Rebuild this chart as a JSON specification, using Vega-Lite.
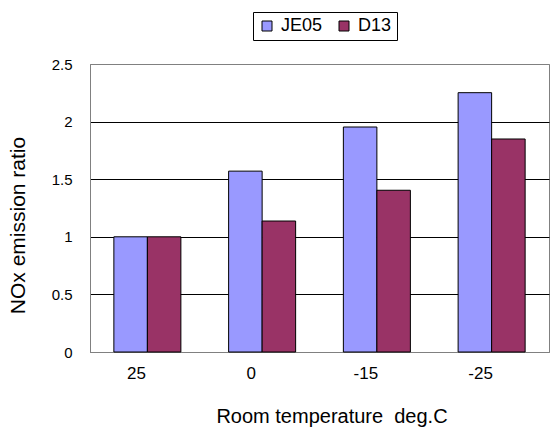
{
  "$schema": "https://vega.github.io/schema/vega-lite/v6.json",
  "width": 459,
  "height": 288,
  "autosize": {"type": "none"},
  "padding": {"left": 90, "top": 64, "right": 1, "bottom": 75},
  "background": "white",
  "config": {
    "font": "Liberation Sans",
    "view": {"stroke": "#808080", "strokeWidth": 1}
  },
  "data": {
    "values": [
      {"temp": "25", "series": "JE05", "ratio": 1.0},
      {"temp": "25", "series": "D13", "ratio": 1.0},
      {"temp": "0", "series": "JE05", "ratio": 1.57},
      {"temp": "0", "series": "D13", "ratio": 1.137},
      {"temp": "-15", "series": "JE05", "ratio": 1.953},
      {"temp": "-15", "series": "D13", "ratio": 1.404},
      {"temp": "-25", "series": "JE05", "ratio": 2.251},
      {"temp": "-25", "series": "D13", "ratio": 1.849}
    ]
  },
  "mark": {"type": "bar", "stroke": "black", "strokeWidth": 1},
  "encoding": {
    "x": {
      "field": "temp",
      "type": "nominal",
      "sort": null,
      "scale": {"paddingInner": 0.416, "paddingOuter": 0.208},
      "axis": {
        "title": "Room temperature\u00a0\u00a0deg.C",
        "titleFontSize": 20,
        "titleFontWeight": "normal",
        "titleColor": "black",
        "titleX": 241.5,
        "titleY": 70,
        "titleAnchor": null,
        "titleAlign": "center",
        "titleBaseline": "alphabetic",
        "labelAngle": 0,
        "labelFontSize": 17,
        "labelColor": "black",
        "labelOffset": -11,
        "labelPadding": 13,
        "ticks": false,
        "domainColor": "#808080",
        "grid": false
      }
    },
    "xOffset": {
      "field": "series",
      "type": "nominal",
      "sort": ["JE05", "D13"],
      "scale": {"paddingInner": 0, "paddingOuter": 0}
    },
    "y": {
      "field": "ratio",
      "type": "quantitative",
      "scale": {"domain": [0, 2.5], "nice": false},
      "axis": {
        "title": "NOx emission ratio",
        "titleFontSize": 21,
        "titleFontWeight": "normal",
        "titleColor": "black",
        "titleAngle": -90,
        "titleX": -71.5,
        "titleY": 161,
        "titleAlign": "center",
        "titleBaseline": "middle",
        "values": [0, 0.5, 1, 1.5, 2, 2.5],
        "format": "~g",
        "labelFontSize": 15,
        "labelColor": "black",
        "labelPadding": 18,
        "ticks": false,
        "domainColor": "#808080",
        "grid": true,
        "gridColor": {"condition": {"test": "datum.value == 0 || datum.value == 2.5", "value": "#808080"}, "value": "black"},
        "gridOpacity": 1,
        "gridWidth": 1
      }
    },
    "color": {
      "field": "series",
      "type": "nominal",
      "sort": ["JE05", "D13"],
      "scale": {"domain": ["JE05", "D13"], "range": ["#9999FF", "#993366"]},
      "legend": {
        "title": null,
        "orient": "none",
        "legendX": 163,
        "legendY": -52,
        "direction": "horizontal",
        "strokeColor": "black",
        "padding": 5,
        "symbolType": "square",
        "symbolSize": 100,
        "symbolStrokeColor": "black",
        "symbolStrokeWidth": 1,
        "symbolOpacity": 1,
        "labelFontSize": 18,
        "labelColor": "black",
        "labelOffset": 5,
        "columnPadding": 12
      }
    }
  }
}
